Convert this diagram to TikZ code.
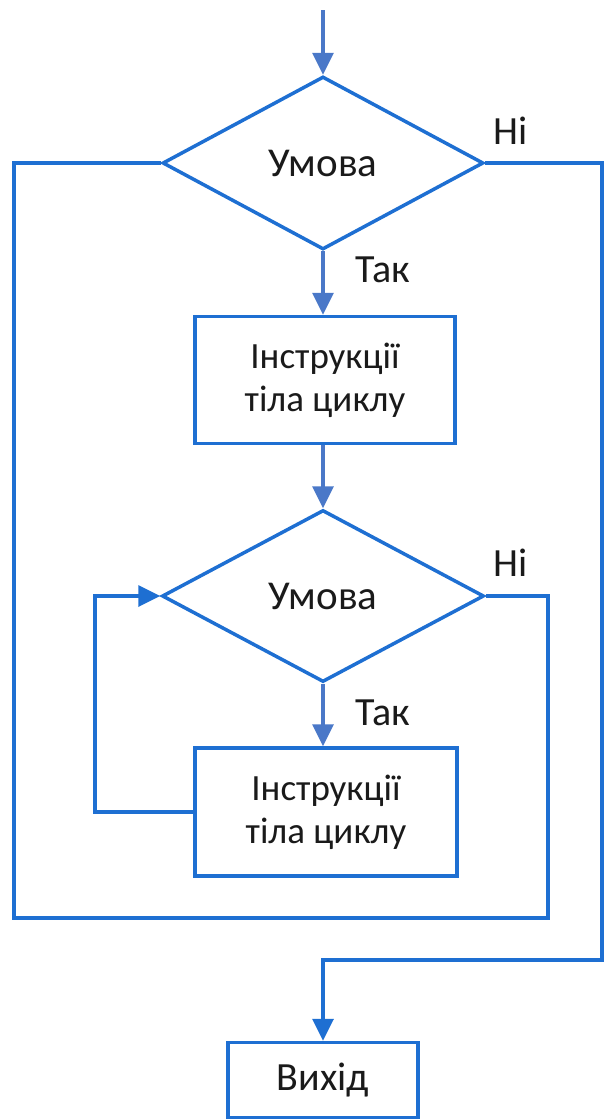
\documentclass[tikz,border=0pt]{standalone}
\usepackage{fontspec}
\setmainfont{Carlito}
\usetikzlibrary{shapes.geometric,arrows.meta}
\definecolor{boxblue}{HTML}{1E6FD2}
\definecolor{arrblue}{HTML}{4A78C8}
\definecolor{txt}{HTML}{1A1A1A}
\tikzset{
  dec/.style={diamond, draw=boxblue, line width=3.5pt, inner sep=0pt, minimum width=#1, text=txt, font=\fontsize{41}{46}\selectfont},
  blk/.style={rectangle, draw=boxblue, line width=3.5pt, inner sep=0pt, align=center, text=txt, font=\fontsize{37}{43}\selectfont},
  flow/.style={draw=arrblue, line width=3.5pt, -{Triangle[width=21pt,length=22pt]}},
  loopline/.style={draw=boxblue, line width=3.5pt},
  lbl/.style={font=\fontsize{40}{44}\selectfont, inner sep=0pt, text=txt}
}
\begin{document}
\begin{tikzpicture}[x=1pt,y=-1pt]
\useasboundingbox (0,0) rectangle (615,1119);
\node[dec=321pt, minimum height=173pt] (d1) at (323,163) {Умова};
\node[blk, minimum width=260pt, minimum height=127pt] (b1) at (325,380) {Інструкції\\тіла циклу};
\node[dec=322pt, minimum height=172pt] (d2) at (323,596) {Умова};
\node[blk, minimum width=262pt, minimum height=128pt] (b2) at (326,812) {Інструкції\\тіла циклу};
\node[blk, minimum width=190pt, minimum height=75pt, font=\fontsize{40}{44}\selectfont] (ex) at (323,1080) {Вихід};
\coordinate (start) at (323,10);
\node[lbl] (n1) at (511,131) {Ні};
\node[lbl] (n2) at (511,563) {Ні};
\node[lbl] (t1) at (383,270) {Так};
\node[lbl] (t2) at (383,713) {Так};
\path[flow] (start) -- (d1.north);
\path[flow] (d1.south) -- (d1.south |- b1.north);
\path[flow] (b1.south -| d2.north) -- (d2.north);
\path[flow] (d2.south) -- (d2.south |- b2.north);
\path[loopline, -{Triangle[width=21pt,length=22pt]}] (b2.west) -- (95,812) -- (95,596) -- (d2.west);
\path[loopline] (d2.east) -- (548,596) -- (548,918) -- (14,918) -- (14,163) -- (d1.west);
\path[loopline, -{Triangle[width=21pt,length=22pt]}] (d1.east) -- (602,163) -- (602,960) -- (323,960) -- (ex.north);
\end{tikzpicture}
\end{document}
